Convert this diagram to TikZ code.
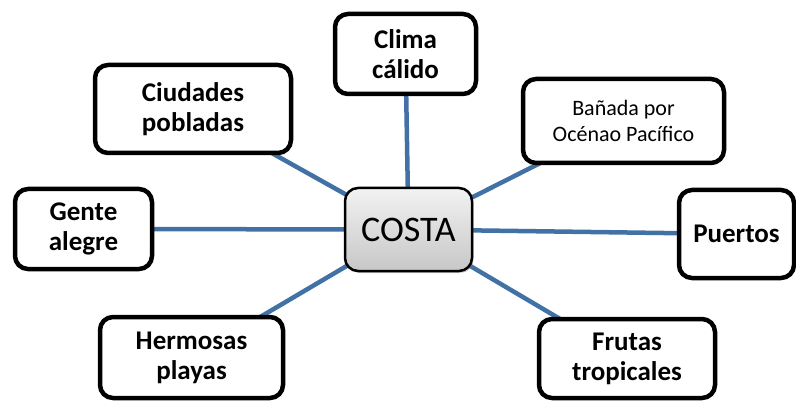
\documentclass[tikz,border=0pt]{standalone}
\usepackage{fontspec}
\setmainfont{Carlito}
\usetikzlibrary{backgrounds,shadows}
\definecolor{linkblue}{RGB}{65,113,165}
\begin{document}
\begin{tikzpicture}[x=1pt,y=-1pt,
  box/.style={draw=black, line width=4.5pt, rounded corners=13pt, fill=white, align=center,
    font=\fontsize{27}{30}\selectfont\bfseries, inner sep=0pt},
  smallbox/.style={box, font=\fontsize{22}{26}\selectfont},
  hub/.style={draw=black, line width=2.5pt, rounded corners=13pt, top color=white!95!black,
    bottom color=white!78!black, align=center, font=\fontsize{36}{40}\selectfont, inner sep=0pt,
    drop shadow={shadow xshift=1.5pt, shadow yshift=-2pt, opacity=0.35}},
  link/.style={draw=linkblue, line width=4.5pt}]
\useasboundingbox (0,0) rectangle (796,401);
\node[hub, minimum width=127pt, minimum height=83pt] (costa) at (408.5,229.5) {COSTA};
\node[box, minimum width=141pt, minimum height=80pt] (clima) at (405.5,54) {Clima\\cálido};
\node[box, minimum width=196pt, minimum height=88pt] (ciudades) at (193,109) {Ciudades\\pobladas};
\node[smallbox, minimum width=201pt, minimum height=84pt] (banada) at (623.5,121) {Bañada por\\Océnao Pacífico};
\node[box, minimum width=137pt, minimum height=80pt] (gente) at (83.5,229) {Gente\\alegre};
\node[box, minimum width=115pt, minimum height=88pt] (puertos) at (736.5,234) {Puertos};
\node[box, minimum width=183pt, minimum height=81pt] (hermosas) at (191.5,357.5) {Hermosas\\playas};
\node[box, minimum width=176pt, minimum height=79pt] (frutas) at (627,358.5) {Frutas\\tropicales};
\begin{scope}[on background layer]
\foreach \n in {clima,ciudades,banada,gente,puertos,hermosas,frutas}
  \draw[link] (costa.center) -- (\n.center);
\end{scope}
\end{tikzpicture}
\end{document}
